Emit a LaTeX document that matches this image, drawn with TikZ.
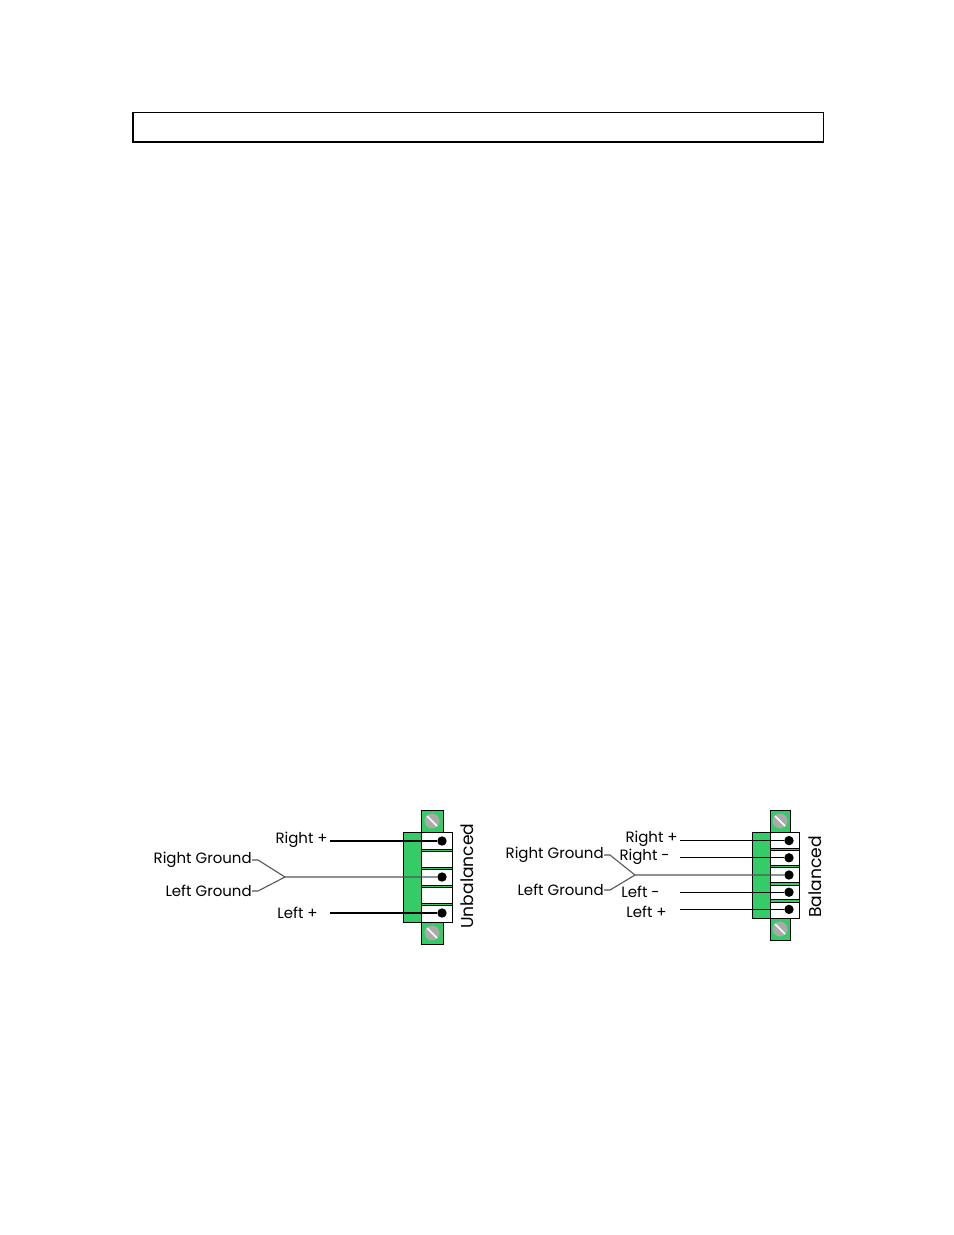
\documentclass[tikz,border=0pt]{standalone}
\usepackage{fontspec}
\setmainfont{Poppins}
\usepackage{tikz}
\definecolor{plug}{RGB}{51,204,102}
\definecolor{screw}{RGB}{170,170,170}
\definecolor{gndwire}{RGB}{85,85,85}
\newcommand{\drawscrew}[4]{
    \filldraw[fill=plug] (#1,#2) rectangle (#3,#4);
    \fill[screw] ({(#1+#3)/2},{(#2+#4)/2}) circle (7.5);
    \draw[white, line width=1pt] ({(#1+#3)/2-5},{(#2+#4)/2-5})--({(#1+#3)/2+5},{(#2+#4)/2+5});
}
\newcommand{\drawplug}[6]{
    \filldraw[fill=plug] (#2,832) rectangle (#2+18,{832+5*#5});
    \filldraw[fill=plug] (#2+18,832) rectangle (#3,{832+5*#5});
    \foreach \i in {1,...,5}{
      \filldraw[fill=white] (#2+18,{832+(\i-1)*#5+1.2*(\i>1)}) rectangle (#3,{832+\i*#5-1.2*(\i<5)});
    }
    \foreach \i in {#6}{
      \node[dot] (#1-\i) at (#3-10,{832+(\i-0.5)*#5}) {};
    }
    \drawscrew{#2+18}{810}{#4}{832}
    \drawscrew{#2+18}{832+5*#5}{#4}{854+5*#5}
}
\tikzset{
  lbl/.style={anchor=east, inner sep=0pt, font=\fontsize{9.6}{11}\selectfont},
  side/.style={rotate=90, inner sep=0pt, font=\fontsize{11}{13}\selectfont},
  dot/.style={circle, fill=black, inner sep=0pt, minimum size=6pt},
  wire/.style={line width=0.7pt},
  gnd/.style={wire, draw=gndwire}
}

\begin{document}
\begin{tikzpicture}[x=0.6415pt,y=-0.6415pt]
\useasboundingbox (0,0) rectangle (954,1235);
\draw[line width=0.6pt] (132,112)--(823,112)--(823,143);
    \draw[line width=1.6pt] (133,112)--(133,142)--(823,142);
% unbalanced
\drawplug{u}{403}{452}{443}{18}{1,3,5}
\node[side] (ulab) at (467,876) {Unbalanced};
\node[lbl] (rpu) at (328,840) {Right +};
\node[lbl] (rgu) at (252,860) {Right Ground};
\node[lbl] (lgu) at (252,891) {Left Ground};
\node[lbl] (lpu) at (318,913) {Left +};
\coordinate (gu) at (285,877);
\coordinate (ustart) at (330,913);
\draw[wire, shorten <=1.5pt] (u-1 -| rpu.east)--(u-1);
\draw[gnd] (rgu.east)--++(6,0)--(gu)--(u-3);
\draw[gnd] (lgu.east)--++(6,0)--(gu);
\draw[wire] (u-5 -| ustart)--(u-5);
% balanced
\drawplug{b}{752}{799}{790}{17.2}{1,...,5}
\node[side] (blab) at (815,877) {Balanced};
\node[lbl] (rpb) at (678,839) {Right +};
\node[lbl] (rmb) at (670,857) {Right -};
\node[lbl] (rgb) at (604,855) {Right Ground};
\node[lbl] (lgb) at (604,890) {Left Ground};
\node[lbl] (lmb) at (660,892) {Left -};
\node[lbl] (lpb) at (667,912) {Left +};
\coordinate (gb) at (635,875);
\coordinate (bstart) at (680,875);
\draw[wire] (b-1 -| bstart)--(b-1);
\draw[wire] (b-2 -| bstart)--(b-2);
\draw[gnd] (rgb.east)--++(6,0)--(gb)--(b-3);
\draw[gnd] (lgb.east)--++(6,0)--(gb);
\draw[wire] (b-4 -| bstart)--(b-4);
\draw[wire] (b-5 -| bstart)--(b-5);
\end{tikzpicture}
\end{document}
